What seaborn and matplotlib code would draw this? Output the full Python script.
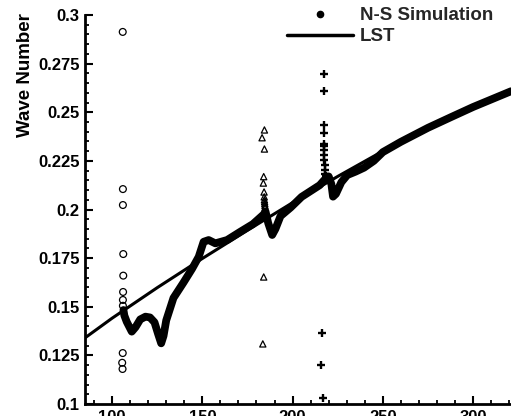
import matplotlib
matplotlib.use("Agg")
import matplotlib.pyplot as plt
from matplotlib.lines import Line2D
from matplotlib.ticker import MultipleLocator
import seaborn as sns
import pandas as pd

# ---- data ----
lst_x = [85, 100, 125, 150, 175, 200, 225, 250, 275, 300, 321]
lst_y = [0.1340, 0.1441, 0.1598, 0.1748, 0.1893, 0.2035, 0.2170, 0.2300, 0.2420, 0.2527, 0.2608]

ns_x = [106.3, 106.8, 108.1, 110.9, 113.0, 115.6, 118.5, 121.0, 123.5, 125.5, 127.2, 128.5,
        130.0, 134.0, 139.6, 144.3, 148.0, 150.7, 153.5, 157.2, 163.7, 171.1, 178.0, 184.0,
        185.0, 186.5, 188.7, 190.5, 193.3, 198.9, 205.0, 210.0, 215.0, 217.4, 220.0, 221.5,
        222.4, 224.0, 227.0, 230.3, 235.0, 239.6, 245.0, 250.0, 260.0, 275.0, 288.0, 300.0, 321.0]
ns_y = [0.1483, 0.1455, 0.1423, 0.1372, 0.1395, 0.1435, 0.1449, 0.1445, 0.1420, 0.1360, 0.1312, 0.1350,
        0.1430, 0.1545, 0.1625, 0.1695, 0.1757, 0.1834, 0.1843, 0.1826, 0.1843, 0.1886, 0.1925, 0.1975,
        0.1990, 0.1930, 0.1869, 0.1900, 0.1966, 0.2010, 0.2065, 0.2095, 0.2125, 0.2150, 0.2170, 0.2130,
        0.2066, 0.2080, 0.2140, 0.2177, 0.2195, 0.2215, 0.2250, 0.2295, 0.2348, 0.2420, 0.2476, 0.2527, 0.2608]

circ_x = [105.9, 106.0, 106.0, 106.2, 106.2, 106.1, 106.0, 106.0, 105.9, 105.6, 105.8]
circ_y = [0.2913, 0.2105, 0.2023, 0.1771, 0.1660, 0.1576, 0.1535, 0.1505, 0.1262, 0.1212, 0.1180]

tri_x = [184.4, 183.1, 184.4, 184.0, 183.8, 184.2, 184.3, 184.4, 184.5, 184.6, 184.7, 184.8, 184.0, 183.5]
tri_y = [0.2409, 0.2369, 0.2311, 0.2169, 0.2136, 0.2090, 0.2065, 0.2050, 0.2040, 0.2030, 0.2020, 0.2010,
         0.1653, 0.1309]

cross_x = [217.4, 217.4, 217.3, 217.3, 217.2, 217.3, 217.4, 217.5, 217.6, 217.7, 217.9, 218.2, 218.6,
           216.5, 216.0, 216.8]
cross_y = [0.2695, 0.2608, 0.2434, 0.2395, 0.2337, 0.2326, 0.2306, 0.2280, 0.2254, 0.2229, 0.2203,
           0.2185, 0.2170, 0.1365, 0.1200, 0.1030]

xticks = [100, 150, 200, 250, 300]
yticks = [0.1, 0.125, 0.15, 0.175, 0.2, 0.225, 0.25, 0.275, 0.3]
ytick_labels = ["0.1", "0.125", "0.15", "0.175", "0.2", "0.225", "0.25", "0.275", "0.3"]

# ---- figure ----
sns.set_theme(style="ticks")
plt.rcParams["font.family"] = ["Liberation Sans", "DejaVu Sans"]
plt.rcParams["font.weight"] = "bold"

fig = plt.figure(figsize=(5.11, 4.16), dpi=100)
ax = fig.add_axes([85 / 511, 12 / 416, 426 / 511, 389 / 416])

lst_df = pd.DataFrame({"x": lst_x, "y": lst_y})
ns_df = pd.DataFrame({"x": ns_x, "y": ns_y})

sns.lineplot(data=lst_df, x="x", y="y", ax=ax, color="black", linewidth=2.2,
             estimator=None, sort=False)
sns.lineplot(data=ns_df, x="x", y="y", ax=ax, color="black", linewidth=5.6,
             estimator=None, sort=False)

sns.scatterplot(x=circ_x, y=circ_y, ax=ax, marker="o", s=24, facecolor="none",
                edgecolor="black", linewidth=0.9)
sns.scatterplot(x=tri_x, y=tri_y, ax=ax, marker="^", s=20, facecolor="none",
                edgecolor="black", linewidth=0.9)
sns.scatterplot(x=cross_x, y=cross_y, ax=ax, marker="+", s=32, color="black",
                linewidth=1.7)

ax.set_xlim(85, 321)
ax.set_ylim(0.1, 0.3)
ax.set_xticks(xticks)
ax.set_yticks(yticks)
ax.set_yticklabels(ytick_labels)
ax.xaxis.set_minor_locator(MultipleLocator(10))
ax.yaxis.set_minor_locator(MultipleLocator(0.005))
ax.tick_params(which="both", direction="in", color="black", labelcolor="black")
ax.tick_params(which="major", length=6, width=1.5, labelsize=12, pad=4)
ax.tick_params(which="minor", length=3, width=1.3)
for lab in ax.get_xticklabels() + ax.get_yticklabels():
    lab.set_fontweight("bold")

sns.despine(ax=ax, top=True, right=True)
ax.spines["left"].set_linewidth(2)
ax.spines["bottom"].set_linewidth(2)
ax.spines["left"].set_color("black")
ax.spines["bottom"].set_color("black")

ax.set_xlabel("")
ax.set_ylabel("Wave Number", fontsize=13.5, fontweight="bold", color="black")
ax.yaxis.set_label_coords(-0.12, 0.846)

handles = [
    Line2D([], [], linestyle="none", marker="o", markersize=4.5, color="black"),
    Line2D([], [], color="black", linewidth=2.5),
]
leg = ax.legend(handles, ["N-S Simulation", "LST"], loc="upper left",
                bbox_to_anchor=(287 / 511, 1 - 7 / 416), bbox_transform=fig.transFigure,
                frameon=False, borderpad=0, borderaxespad=0, handlelength=3.5,
                handletextpad=0.4, labelspacing=0.22,
                prop={"weight": "bold", "size": 13.5})

fig.savefig("out.png", dpi=100)
